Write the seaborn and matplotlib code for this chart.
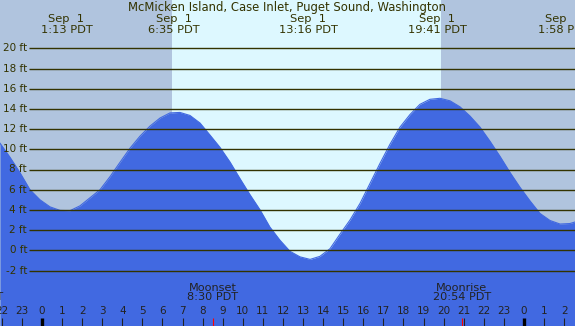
import matplotlib
matplotlib.use("Agg")
import matplotlib.pyplot as plt
import seaborn as sns
import pandas as pd

# tide curve (hours from midnight Sep 1, height in ft)
hours = [-2.09, -1.59, -1.10, -0.60, -0.10, 0.40, 0.90, 1.39, 1.89, 2.39,
         2.89, 3.39, 3.88, 4.38, 4.88, 5.38, 5.88, 6.37, 6.87, 7.37,
         7.87, 8.37, 8.86, 9.36, 9.86, 10.36, 10.86, 11.35, 11.85, 12.35,
         12.85, 13.35, 13.84, 14.34, 14.84, 15.34, 15.84, 16.33, 16.83, 17.33,
         17.83, 18.33, 18.82, 19.32, 19.82, 20.32, 20.82, 21.31, 21.81, 22.31,
         22.81, 23.31, 23.80, 24.30, 24.80, 25.30, 25.80, 26.29, 26.54]
heights = [10.6, 9.2, 7.7, 6.0, 5.0, 4.3, 3.95, 3.92, 4.4, 5.2,
           6.0, 7.3, 8.7, 10.1, 11.3, 12.3, 13.1, 13.6, 13.65, 13.35,
           12.6, 11.4, 10.2, 8.75, 7.1, 5.5, 4.0, 2.3, 1.0, -0.1,
           -0.65, -0.9, -0.6, 0.15, 1.6, 3.0, 4.65, 6.6, 8.6, 10.5,
           12.2, 13.45, 14.45, 14.95, 15.05, 14.8, 14.2, 13.3, 12.2, 10.8,
           9.3, 7.7, 6.25, 4.9, 3.65, 2.95, 2.6, 2.65, 2.8]

title = "McMicken Island, Case Inlet, Puget Sound, Washington"
ext_hours = [1.217, 6.583, 13.267, 19.683, 25.967]
ext_labels = ["1:13 PDT", "6:35 PDT", "13:16 PDT", "19:41 PDT", "1:58 PDT"]
ext_dates = ["Sep  1", "Sep  1", "Sep  1", "Sep  1", "Sep  1"]

sunrise, sunset = 6.47, 19.87

moon_hours = [-3.38, 8.5, 20.9]
moon_labels = ["Moonrise\n20:37 PDT", "Moonset\n8:30 PDT", "Moonrise\n20:54 PDT"]

hour_ticks = list(range(-2, 27))
hour_labels = [str(h % 24) for h in hour_ticks]

ft_levels = list(range(-2, 21, 2))

# pixel helpers (575x326 canvas)
px_per_hour = 20.08
x0_px = 42.0
def px_to_hour(x):
    return (x - x0_px) / px_per_hour
def px_to_ft(y):
    return (250.3 - y) / 10.1

night = "#b0c4de"
day = "#ddf8ff"
water = "#4169e1"
ink = "#333300"

df = pd.DataFrame({"hour": hours, "ft": heights})

fig = plt.figure(figsize=(5.75, 3.26), dpi=100)
ax = fig.add_axes([0, 0, 1, 1])
ax.set_facecolor(night)
xmin, xmax = px_to_hour(0), px_to_hour(575)
ymin, ymax = px_to_ft(326), px_to_ft(0)
ax.set_xlim(xmin, xmax)
ax.set_ylim(ymin, ymax)

ax.axvspan(sunrise, sunset, color=day, lw=0, zorder=0)

ax.fill_between(df["hour"], df["ft"], ymin, color=water, lw=0, zorder=1)
sns.lineplot(data=df, x="hour", y="ft", ax=ax, color=water, lw=0.8, zorder=1)

ax.hlines(ft_levels, px_to_hour(29), xmax, color=ink, lw=1.0, zorder=2)
for v in ft_levels:
    ax.text(px_to_hour(27), v, f"{v} ft", ha="right", va="center",
            fontsize=7.5, color=ink)

ax.text(px_to_hour(287), px_to_ft(7), title, ha="center", va="center",
        fontsize=8.4, color=ink)
for h, d, t in zip(ext_hours, ext_dates, ext_labels):
    ax.text(h, px_to_ft(19), d, ha="center", va="center", fontsize=8.2, color=ink)
    ax.text(h, px_to_ft(30), t, ha="center", va="center", fontsize=8.2, color=ink)

for h, lab in zip(moon_hours, moon_labels):
    ax.text(h, px_to_ft(292.5), lab, ha="center", va="center", fontsize=8.1,
            color="#222222", linespacing=0.9, clip_on=False)

# hour ticks along the bottom
for h, lab in zip(hour_ticks, hour_labels):
    ax.text(h, px_to_ft(311), lab, ha="center", va="center", fontsize=7.5, color="#222222")
    if h % 24 == 0:
        ax.vlines(h, ymin, px_to_ft(318), color="black", lw=2.4, zorder=3)
    else:
        ax.vlines(h, ymin, px_to_ft(318), color="#222222", lw=0.8, zorder=3)
for h in moon_hours:
    ax.vlines(h, ymin, px_to_ft(318), color="red", lw=0.8, zorder=4)

ax.set_xlabel("")
ax.set_ylabel("")
ax.set_xticks([])
ax.set_yticks([])
for s in ax.spines.values():
    s.set_visible(False)

fig.savefig("out.png", dpi=100)
